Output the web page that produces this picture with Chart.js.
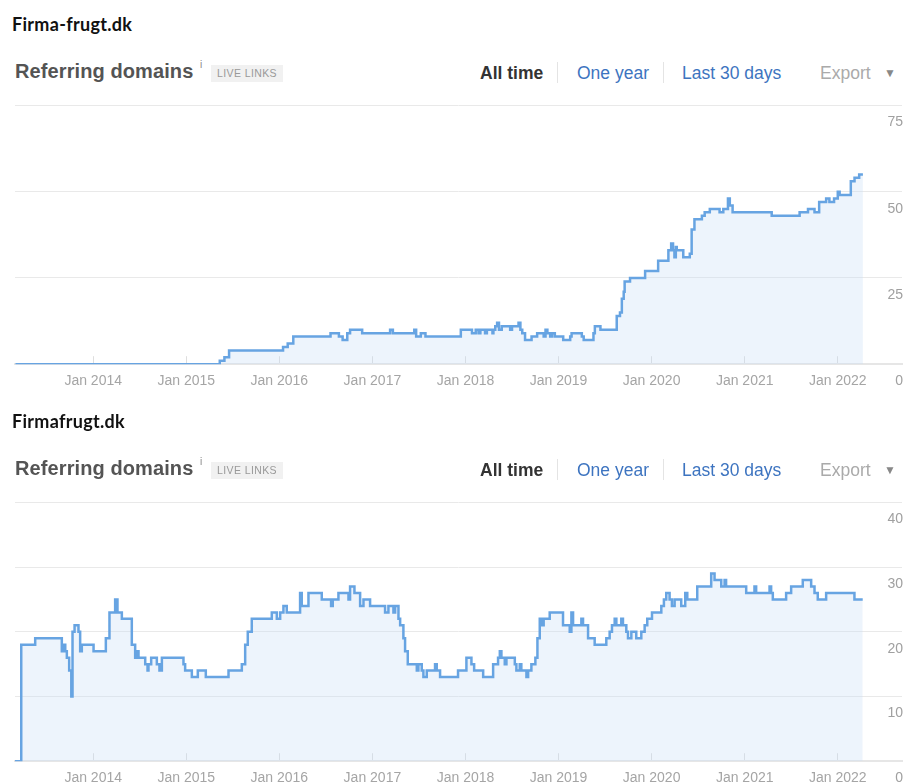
<!DOCTYPE html>
<html>
<head>
<meta charset="utf-8">
<script src="https://cdn.jsdelivr.net/npm/chart.js@4.4.0/dist/chart.umd.min.js"></script>
<style>
  html, body { margin: 0; padding: 0; background: #fff; }
  body { width: 904px; height: 783px; position: relative; overflow: hidden;
         font-family: "Liberation Sans", Arial, sans-serif; }
  .panel { position: absolute; left: 0; width: 904px; height: 397px; }
  .site { position: absolute; left: 12px; top: 15px; font-family: Lato, "Open Sans", sans-serif;
          font-weight: 700; font-size: 18px; line-height: 1; color: #111; letter-spacing: 0.3px; }
  .hdr { position: absolute; left: 15px; top: 61px; font-size: 20px; font-weight: 700; line-height: 1;
         color: #545454; letter-spacing: 0.1px; }
  .info { position: absolute; left: 200px; top: 60px; font-size: 10px; line-height: 1; color: #888; }
  .badge { position: absolute; left: 211px; top: 65px; width: 72px; height: 17px; background: #f1f1f1;
           font-size: 10.5px; line-height: 17px; color: #999; text-align: center; letter-spacing: 0.4px; }
  .menu { position: absolute; top: 65px; font-size: 17.5px; line-height: 1; white-space: nowrap; }
  .sep { position: absolute; top: 62px; width: 1px; height: 21px; background: #e4e4e4; }
  canvas { position: absolute; left: 0; top: 96px; }
</style>
</head>
<body>

<div class="panel" style="top:0">
  <div class="site">Firma-frugt.dk</div>
  <div class="hdr">Referring domains</div>
  <div class="info">i</div>
  <div class="badge">LIVE LINKS</div>
  <div class="menu" style="left:480px;font-weight:700;color:#333">All time</div>
  <div class="sep" style="left:557px"></div>
  <div class="menu" style="left:577px;color:#3d74c0">One year</div>
  <div class="sep" style="left:663px"></div>
  <div class="menu" style="left:682px;color:#3d74c0">Last 30 days</div>
  <div class="menu" style="left:820px;color:#aaa">Export</div>
  <div class="menu" style="left:884px;top:67px;font-size:12px;color:#888">&#9660;</div>
  <canvas id="chart1" width="904" height="319"></canvas>
</div>

<div class="panel" style="top:397px">
  <div class="site">Firmafrugt.dk</div>
  <div class="hdr">Referring domains</div>
  <div class="info">i</div>
  <div class="badge">LIVE LINKS</div>
  <div class="menu" style="left:480px;font-weight:700;color:#333">All time</div>
  <div class="sep" style="left:557px"></div>
  <div class="menu" style="left:577px;color:#3d74c0">One year</div>
  <div class="sep" style="left:663px"></div>
  <div class="menu" style="left:682px;color:#3d74c0">Last 30 days</div>
  <div class="menu" style="left:820px;color:#aaa">Export</div>
  <div class="menu" style="left:884px;top:67px;font-size:12px;color:#888">&#9660;</div>
  <canvas id="chart2" width="904" height="319"></canvas>
</div>

<script>
// x positions are decimal years (2016.5 = mid 2016)
const xTickYears = [2014, 2015, 2016, 2017, 2018, 2019, 2020, 2021, 2022];

// Firma-frugt.dk
const years1 = [2013.165, 2015.36, 2015.41, 2015.46, 2016.04, 2016.09, 2016.15, 2016.55, 2016.64, 2016.68,
  2016.73, 2016.76, 2016.89, 2017.19, 2017.22, 2017.45, 2017.47, 2017.52, 2017.57, 2017.95,
  2018.07, 2018.11, 2018.14, 2018.16, 2018.21, 2018.23, 2018.29, 2018.30, 2018.32, 2018.34,
  2018.36, 2018.39, 2018.48, 2018.50, 2018.57, 2018.59, 2018.61, 2018.64, 2018.71, 2018.77,
  2018.84, 2018.86, 2018.88, 2018.91, 2018.93, 2018.96, 2019.05, 2019.125, 2019.14, 2019.25,
  2019.27, 2019.375, 2019.39, 2019.45, 2019.625, 2019.66, 2019.68, 2019.70, 2019.71, 2019.768,
  2019.93, 2020.07, 2020.18, 2020.21, 2020.23, 2020.245, 2020.26, 2020.27, 2020.34, 2020.41,
  2020.43, 2020.46, 2020.54, 2020.57, 2020.625, 2020.73, 2020.77, 2020.82, 2020.84, 2020.87,
  2021.29, 2021.59, 2021.68, 2021.75, 2021.80, 2021.875, 2021.91, 2021.96, 2022.0, 2022.02,
  2022.14, 2022.18, 2022.23, 2022.27];
const values1 = [0, 1, 2, 4, 5, 6, 8, 9, 8, 7,
  9, 10, 9, 10, 9, 10, 8, 9, 8, 10,
  9, 10, 9, 10, 9, 10, 9, 10, 11, 12,
  10, 11, 10, 11, 12, 10, 9, 7, 8, 9,
  8, 10, 9, 8, 9, 8, 7, 8, 9, 8,
  7, 9, 11, 10, 14, 15, 19, 21, 24, 25,
  27, 30, 33, 35, 33, 31, 34, 33, 31, 32,
  39, 42, 43, 44, 45, 44, 45, 48, 46, 44,
  43, 44, 45, 44, 47, 48, 47, 48, 50, 49,
  53, 54, 55, 55];
const yTicks1 = [0, 25, 50, 75];

// Firmafrugt.dk
const years2 = [2013.155, 2013.227, 2013.377, 2013.663, 2013.681, 2013.70, 2013.717, 2013.742, 2013.765, 2013.778,
  2013.80, 2013.842, 2013.86, 2013.878, 2014.004, 2014.136, 2014.175, 2014.236, 2014.261, 2014.308,
  2014.415, 2014.451, 2014.469, 2014.487, 2014.559, 2014.584, 2014.594, 2014.623, 2014.684, 2014.712,
  2014.738, 2014.97, 2014.988, 2015.06, 2015.124, 2015.21, 2015.454, 2015.597, 2015.633, 2015.661,
  2015.704, 2015.919, 2015.973, 2016.009, 2016.044, 2016.08, 2016.223, 2016.241, 2016.313, 2016.456,
  2016.556, 2016.574, 2016.635, 2016.743, 2016.76, 2016.807, 2016.868, 2016.904, 2016.975, 2017.136,
  2017.172, 2017.226, 2017.244, 2017.28, 2017.298, 2017.333, 2017.351, 2017.38, 2017.477, 2017.494,
  2017.53, 2017.548, 2017.584, 2017.673, 2017.691, 2017.727, 2017.92, 2018.01, 2018.064, 2018.093,
  2018.19, 2018.297, 2018.35, 2018.369, 2018.386, 2018.422, 2018.44, 2018.53, 2018.547, 2018.583,
  2018.60, 2018.655, 2018.673, 2018.708, 2018.751, 2018.773, 2018.798, 2018.823, 2018.84, 2018.905,
  2019.048, 2019.12, 2019.138, 2019.156, 2019.245, 2019.263, 2019.317, 2019.388, 2019.513, 2019.549,
  2019.574, 2019.603, 2019.621, 2019.674, 2019.692, 2019.728, 2019.746, 2019.782, 2019.835, 2019.889,
  2019.925, 2019.953, 2020.004, 2020.104, 2020.132, 2020.157, 2020.193, 2020.218, 2020.247, 2020.318,
  2020.361, 2020.383, 2020.49, 2020.64, 2020.676, 2020.748, 2020.784, 2020.80, 2021.016, 2021.105,
  2021.123, 2021.267, 2021.284, 2021.302, 2021.445, 2021.499, 2021.624, 2021.714, 2021.75, 2021.785,
  2021.875, 2022.179, 2022.268];
const values2 = [0, 18, 19, 17, 18, 17, 16, 14, 10, 20,
  21, 20, 17, 18, 17, 19, 23, 25, 23, 22,
  18, 16, 17, 16, 15, 14, 15, 16, 15, 14,
  16, 15, 14, 13, 14, 13, 14, 15, 18, 20,
  22, 23, 22, 23, 24, 23, 26, 24, 26, 25,
  24, 25, 26, 25, 27, 26, 24, 25, 24, 23,
  24, 23, 24, 22, 21, 19, 17, 15, 14, 15,
  14, 13, 14, 15, 14, 13, 14, 16, 15, 14,
  13, 15, 16, 17, 16, 15, 16, 15, 14, 15,
  14, 13, 14, 15, 16, 19, 22, 21, 22, 23,
  21, 20, 23, 21, 22, 21, 19, 18, 19, 20,
  21, 22, 21, 22, 21, 20, 19, 20, 19, 20,
  21, 22, 23, 24, 25, 26, 25, 24, 25, 24,
  26, 25, 27, 29, 28, 27, 28, 27, 26, 27,
  26, 27, 26, 25, 26, 27, 28, 27, 26, 25,
  26, 25, 25];
const yTicks2 = [0, 10, 20, 30, 40];

const xMin = 2013.16;
const xMax = 2022.69;

function drawChart(canvasId, years, values, yTicks) {
    const points = years.map((x, i) => ({ x: x, y: values[i] }));
    return new Chart(document.getElementById(canvasId), {
        type: 'line',
        data: {
            datasets: [{
                data: points,
                stepped: true,
                borderColor: '#67a4e2',
                borderWidth: 2.5,
                backgroundColor: 'rgba(200, 220, 245, 0.32)',
                fill: 'origin',
                pointRadius: 0
            }]
        },
        options: {
            responsive: false,
            animation: false,
            layout: { padding: { left: 15, top: 0, right: 0, bottom: 8 } },
            plugins: {
                legend: { display: false },
                tooltip: { enabled: false }
            },
            scales: {
                x: {
                    type: 'linear',
                    min: xMin,
                    max: xMax,
                    afterBuildTicks: function(scale) {
                        scale.ticks = xTickYears.map(v => ({ value: v }));
                    },
                    ticks: {
                        autoSkip: false,
                        maxRotation: 0,
                        padding: 17,
                        color: '#a5a5a5',
                        font: { family: '"Liberation Sans", Arial', size: 14 },
                        callback: function(v) { return 'Jan ' + v; }
                    },
                    grid: { drawOnChartArea: false, drawTicks: true, tickLength: -8, color: '#dedede' },
                    border: { color: '#e6e6e6', width: 2 }
                },
                y: {
                    position: 'right',
                    min: yTicks[0],
                    max: yTicks[yTicks.length - 1],
                    afterBuildTicks: function(scale) {
                        scale.ticks = yTicks.map(v => ({ value: v }));
                    },
                    ticks: {
                        mirror: true,
                        padding: 1,
                        labelOffset: 17,
                        color: '#a0a0a0',
                        font: { family: '"Liberation Sans", Arial', size: 14 }
                    },
                    grid: { color: '#e9e9e9', drawTicks: false },
                    border: { display: false }
                }
            }
        }
    });
}

drawChart('chart1', years1, values1, yTicks1);
drawChart('chart2', years2, values2, yTicks2);
</script>
</body>
</html>
